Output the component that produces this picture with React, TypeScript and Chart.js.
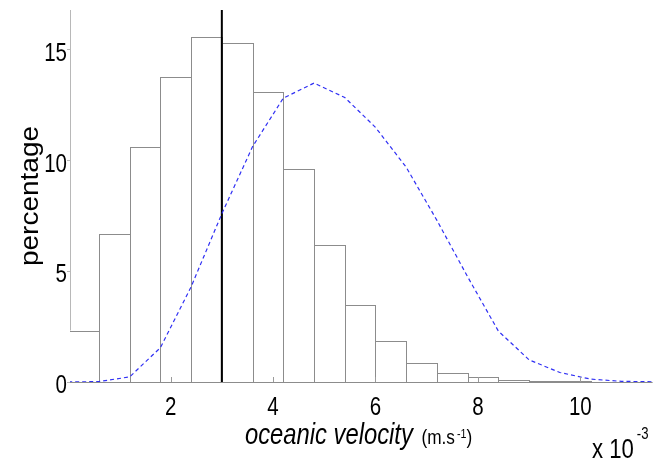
import { useEffect, useRef } from "react";
import { Chart, registerables } from "chart.js";

Chart.register(...registerables);

// Histogram of oceanic velocity (x 10^-3 m/s), bins of width 0.6
const binCenters = [0.3, 0.9, 1.5, 2.1, 2.7, 3.3, 3.9, 4.5, 5.1, 5.7, 6.3, 6.9, 7.5, 8.1, 8.7, 9.3, 9.9, 10.5, 11.1];
const binPercent = [2.31, 6.67, 10.61, 13.78, 15.56, 15.33, 13.1, 9.63, 6.2, 3.5, 1.83, 0.88, 0.42, 0.21, 0.1, 0.05, 0.03, 0.01, 0.01];

// Fitted distribution (dashed blue curve), sampled at the bin edges
const fitVelocity = [0, 0.6, 1.2, 1.8, 2.4, 3.0, 3.6, 4.2, 4.8, 5.4, 6.0, 6.6, 7.2, 7.8, 8.4, 9.0, 9.6, 10.2, 10.8, 11.4];
const fitPercent = [0.0, 0.02, 0.23, 1.55, 4.3, 7.6, 10.63, 12.82, 13.5, 12.85, 11.5, 9.7, 7.3, 4.75, 2.3, 1.0, 0.43, 0.13, 0.03, 0.01];

// Reference velocity marked by the vertical black line
const thresholdVelocity = 3;

const xTickValues = [2, 4, 6, 8, 10];
const yTickValues = [0, 5, 10, 15];
const xMin = 0.035;
const xMax = 11.4;
const yMin = 0;
const yMax = 16.8;

const SANS = "'Liberation Sans', Arial, sans-serif";
// glyphs are drawn horizontally condensed
const SQUEEZE = 0.82;

function squeezedText(
  ctx: CanvasRenderingContext2D,
  text: string,
  x: number,
  y: number,
  font: string,
  align: CanvasTextAlign = "left"
): number {
  ctx.save();
  ctx.font = font;
  ctx.textAlign = align;
  ctx.textBaseline = "alphabetic";
  ctx.translate(x, y);
  ctx.scale(SQUEEZE, 1);
  ctx.fillText(text, 0, 0);
  const w = ctx.measureText(text).width * SQUEEZE;
  ctx.restore();
  return w;
}

const histOutline = {
  id: "histOutline",
  afterDatasetDraw(chart: any, args: any) {
    if (args.index !== 0) return;
    const { ctx, chartArea } = chart;
    ctx.save();
    ctx.beginPath();
    ctx.rect(chartArea.left, chartArea.top, chartArea.right - chartArea.left, chartArea.bottom - chartArea.top + 1);
    ctx.clip();
    ctx.strokeStyle = "#8c8c8c";
    ctx.lineWidth = 1;
    for (const el of args.meta.data) {
      const p = el.getProps(["x", "y", "base", "width"], true);
      const l = Math.round(p.x - p.width / 2) + 0.5;
      const r = Math.round(p.x + p.width / 2) + 0.5;
      const t = Math.round(p.y) + 0.5;
      const b = Math.round(p.base) + 0.5;
      ctx.strokeRect(l, t, r - l, b - t);
    }
    ctx.restore();
  },
};

const axisDecor = {
  id: "axisDecor",
  afterDraw(chart: any) {
    const { ctx, chartArea, scales } = chart;
    // inward tick marks on the velocity axis
    ctx.save();
    ctx.strokeStyle = "#9a9a9a";
    ctx.lineWidth = 1;
    for (const v of xTickValues) {
      const px = Math.round(scales.x.getPixelForValue(v)) + 0.5;
      ctx.beginPath();
      ctx.moveTo(px, chartArea.bottom);
      ctx.lineTo(px, chartArea.bottom - 5);
      ctx.stroke();
    }
    ctx.restore();

    ctx.save();
    ctx.fillStyle = "#000";

    // tick labels
    for (const t of scales.x.ticks) {
      const px = scales.x.getPixelForValue(t.value);
      squeezedText(ctx, String(t.value), px, chartArea.bottom + 33, `25px ${SANS}`, "center");
    }
    for (const t of scales.y.ticks) {
      const py = scales.y.getPixelForValue(t.value);
      squeezedText(ctx, String(t.value), chartArea.left - 3, py + 11, `25px ${SANS}`, "right");
    }

    // y axis title
    ctx.save();
    ctx.translate(38, (chartArea.top + chartArea.bottom) / 2);
    ctx.rotate(-Math.PI / 2);
    ctx.scale(1, 0.92);
    ctx.font = `28px ${SANS}`;
    ctx.textAlign = "center";
    ctx.textBaseline = "alphabetic";
    ctx.fillText("percentage", 0, 0);
    ctx.restore();

    // x axis title
    let x = 245;
    x += squeezedText(ctx, "oceanic velocity ", x, 444, `italic 29px ${SANS}`);
    x += squeezedText(ctx, "(m.s", x + 2, 444, `21px ${SANS}`);
    x += squeezedText(ctx, "-1", x + 4, 438, `13px ${SANS}`);
    squeezedText(ctx, ")", x + 4, 444, `21px ${SANS}`);

    // exponent note
    const w = squeezedText(ctx, "x 10", 592, 458, `27px ${SANS}`);
    squeezedText(ctx, "-3", 592 + w + 3, 439, `16px ${SANS}`);
    ctx.restore();
  },
};

export default function App() {
  const canvasRef = useRef<HTMLCanvasElement | null>(null);

  useEffect(() => {
    const canvas = canvasRef.current;
    if (!canvas) return;
    const chart = new Chart(canvas, {
      type: "bar",
      data: {
        datasets: [
          {
            type: "bar",
            data: binCenters.map((c, i) => ({ x: c, y: binPercent[i] })),
            backgroundColor: "#ffffff",
            borderWidth: 0,
            barPercentage: 1,
            categoryPercentage: 1,
            order: 3,
          } as any,
          {
            type: "line",
            data: [
              { x: thresholdVelocity, y: yMin },
              { x: thresholdVelocity, y: yMax },
            ],
            borderColor: "#000000",
            borderWidth: 2,
            pointRadius: 0,
            order: 2,
          },
          {
            type: "line",
            data: fitVelocity.map((v, i) => ({ x: v, y: fitPercent[i] })),
            borderColor: "#3030f4",
            borderWidth: 1.2,
            borderDash: [4, 3],
            pointRadius: 0,
            tension: 0,
            order: 1,
          },
        ],
      },
      options: {
        responsive: false,
        animation: false,
        devicePixelRatio: 1,
        layout: { padding: { top: 10, right: 17, left: 0, bottom: 0 } },
        plugins: {
          legend: { display: false },
          tooltip: { enabled: false },
        },
        scales: {
          x: {
            type: "linear",
            min: xMin,
            max: xMax,
            offset: false,
            afterBuildTicks: (s: any) => {
              s.ticks = xTickValues.map((v) => ({ value: v }));
            },
            afterFit: (s: any) => {
              s.height = 84;
            },
            grid: { display: false, drawTicks: false },
            border: { display: true, color: "#b8b8b8", width: 1 },
            ticks: { display: false },
          },
          y: {
            type: "linear",
            min: yMin,
            max: yMax,
            afterBuildTicks: (s: any) => {
              s.ticks = yTickValues.map((v) => ({ value: v }));
            },
            afterFit: (s: any) => {
              s.width = 70;
            },
            grid: { display: true, drawOnChartArea: false, drawTicks: true, tickLength: 3, color: "#b8b8b8" },
            border: { display: true, color: "#b8b8b8", width: 1 },
            ticks: { display: false },
          },
        },
      },
      plugins: [histOutline, axisDecor],
    });
    return () => chart.destroy();
  }, []);

  return (
    <div style={{ position: "absolute", left: 0, top: 0, width: 669, height: 466, background: "#fff" }}>
      <canvas ref={canvasRef} width={669} height={466} style={{ display: "block" }} />
    </div>
  );
}
